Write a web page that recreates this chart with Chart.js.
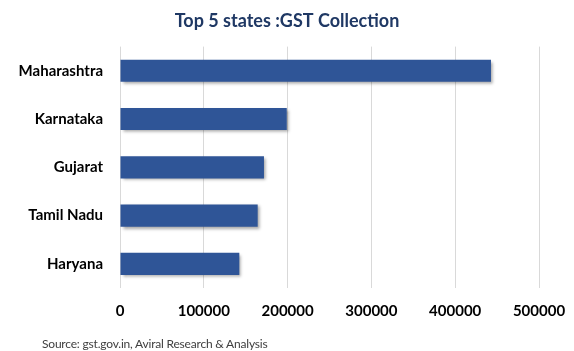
<!DOCTYPE html>
<html>
<head>
<meta charset="utf-8">
<script src="https://cdn.jsdelivr.net/npm/chart.js@4"></script>
<style>
  body { margin: 0; background: #fff; }
  #wrap { position: relative; width: 574px; height: 351px; }
  #source { position: absolute; left: 42px; top: 336px; font: 12px Lato, sans-serif; color: #404040; letter-spacing: -0.2px; }
</style>
</head>
<body>
<div id="wrap">
  <canvas id="chart" width="574" height="351"></canvas>
  <div id="source">Source: gst.gov.in, Aviral Research &amp; Analysis</div>
</div>
<script>
const states = ["Maharashtra", "Karnataka", "Gujarat", "Tamil Nadu", "Haryana"];
const gstCollection = [442700, 199000, 171800, 164300, 142400];
const axisMax = 500000;
const axisStep = 100000;

// soft drop shadow under the bars
const barShadow = {
    id: "barShadow",
    beforeDatasetsDraw(chart) {
        const ctx = chart.ctx;
        ctx.save();
        ctx.shadowColor = "rgba(0,0,0,0.35)";
        ctx.shadowBlur = 3;
        ctx.shadowOffsetX = 2;
        ctx.shadowOffsetY = 2;
    },
    afterDatasetsDraw(chart) {
        chart.ctx.restore();
    }
};

const ctx = document.getElementById("chart").getContext("2d");
new Chart(ctx, {
    type: "bar",
    data: {
        labels: states,
        datasets: [{
            data: gstCollection,
            backgroundColor: "#2F5597",
            barPercentage: 0.46,
            categoryPercentage: 1
        }]
    },
    options: {
        indexAxis: "y",
        responsive: false,
        animation: false,
        layout: { padding: 0 },
        plugins: {
            legend: { display: false },
            tooltip: { enabled: false },
            title: {
                display: true,
                text: "Top 5 states :GST Collection",
                color: "#1F3864",
                font: { family: "Lato", size: 18, weight: "bold" },
                padding: { top: 10, bottom: 15 }
            }
        },
        scales: {
            x: {
                min: 0,
                max: axisMax,
                ticks: {
                    stepSize: axisStep,
                    color: "#000",
                    font: { family: "Lato", size: 15, weight: "bold" },
                    padding: 14,
                    maxRotation: 0,
                    callback: (v) => String(v)
                },
                grid: { color: "#d9d9d9", drawTicks: false },
                border: { display: false },
                afterFit(scale) {
                    scale.height = 63;
                    scale.paddingLeft = 0;
                    scale.paddingRight = 35;
                }
            },
            y: {
                ticks: {
                    color: "#000",
                    font: { family: "Lato", size: 15, weight: "bold" },
                    padding: 17
                },
                grid: { display: false, drawTicks: false },
                border: { display: false },
                afterFit(scale) {
                    scale.width = 120;
                    scale.paddingTop = 0;
                    scale.paddingBottom = 0;
                }
            }
        }
    },
    plugins: [barShadow]
});
</script>
</body>
</html>
